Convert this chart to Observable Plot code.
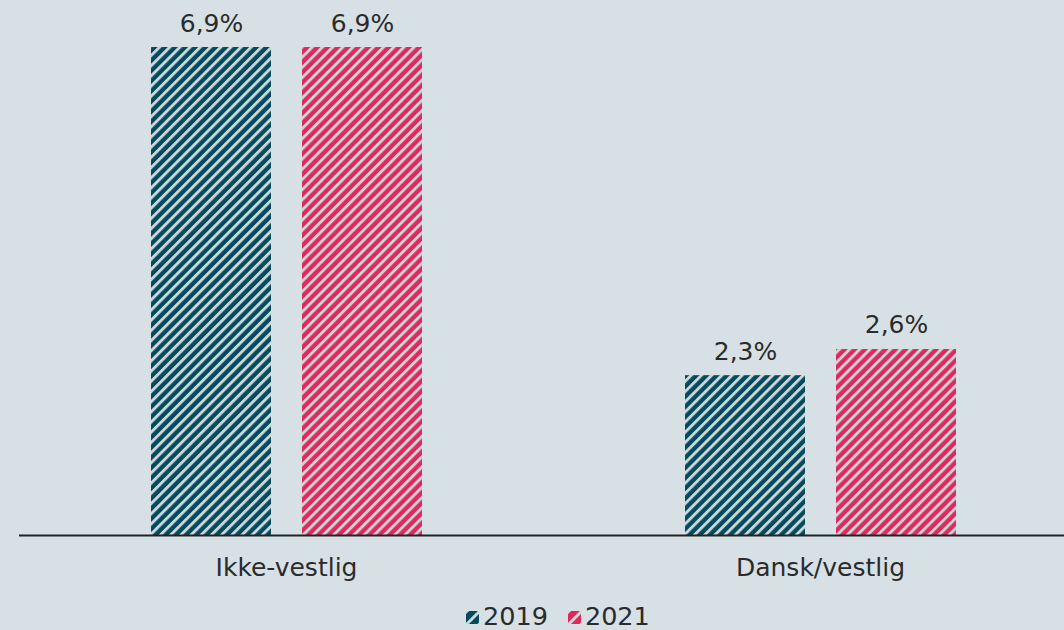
<!DOCTYPE html>
<html>
<head>
<meta charset="utf-8">
<script src="https://cdn.jsdelivr.net/npm/d3@7"></script>
<script src="https://cdn.jsdelivr.net/npm/@observablehq/plot@0.6"></script>
<style>
  html, body { margin: 0; padding: 0; background: #d7e1e5; }
  body { width: 1064px; height: 630px; position: relative; overflow: hidden; font-family: "DejaVu Sans", Verdana, sans-serif; }
  #chart svg { display: block; }
  #legend { position: absolute; left: 466px; top: 603px; display: flex; align-items: center; font-size: 25.5px; color: #2b2b2b; line-height: 27px; }
  #legend .item { display: flex; align-items: center; margin-right: 20px; }
  #legend svg { margin-right: 3px; }
</style>
</head>
<body>
<div id="chart"></div>
<div id="legend"></div>
<script>
const categories = ["Ikke-vestlig", "Dansk/vestlig"];
const years = ["2019", "2021"];
const values2019 = [6.9, 2.26];
const values2021 = [6.9, 2.63];
const labels2019 = ["6,9%", "2,3%"];
const labels2021 = ["6,9%", "2,6%"];
const colors = {"2019": "#004b5e", "2021": "#e1285c"};
const stripe = "#cfd5d8";

const data = [];
categories.forEach((c, i) => {
  data.push({category: c, year: "2019", value: values2019[i], label: labels2019[i]});
  data.push({category: c, year: "2021", value: values2021[i], label: labels2021[i]});
});

const chart = Plot.plot({
  width: 1064,
  height: 595,
  marginTop: 47,
  marginBottom: 60,
  marginLeft: 18,
  marginRight: 0,
  style: {background: "transparent", fontFamily: "DejaVu Sans, Verdana, sans-serif", fontSize: "25px", color: "#2b2b2b"},
  fx: {domain: categories, range: [18.5, 1086.5], padding: 0, label: null, tickSize: 0, tickPadding: 23, axis: "bottom"},
  x: {domain: years, axis: null, paddingInner: 0.208, paddingOuter: 0.866},
  y: {domain: [0, 6.9], axis: null},
  marks: [
    Plot.barY(data, {fx: "category", x: "year", y: "value", fill: d => `url(#hatch${d.year})`}),
    Plot.text(data, {fx: "category", x: "year", y: "value", text: "label", lineAnchor: "bottom", dy: -16, fontSize: 25, fill: "#2b2b2b"}),
    Plot.ruleY([0], {stroke: "#222", strokeWidth: 2})
  ],
  color: {type: "identity"}
});

const svg = d3.select(chart.tagName.toLowerCase() === "svg" ? chart : chart.querySelector("svg"));
const defs = svg.insert("defs", ":first-child");
function addPattern(sel, id, color, size, w) {
  const p = sel.append("pattern").attr("id", id).attr("patternUnits", "userSpaceOnUse")
    .attr("width", size).attr("height", size).attr("patternTransform", "rotate(45)");
  p.append("rect").attr("width", size).attr("height", size).attr("fill", color);
  p.append("rect").attr("width", w).attr("height", size).attr("fill", stripe);
}
years.forEach(y => addPattern(defs, "hatch" + y, colors[y], 7.2, 2.9));
document.getElementById("chart").appendChild(chart);

const legend = d3.select("#legend");
years.forEach(y => {
  const item = legend.append("div").attr("class", "item");
  const s = item.append("svg").attr("width", 14).attr("height", 14);
  addPattern(s.append("defs"), "lg" + y, colors[y], 9, 3);
  s.append("rect").attr("width", 13).attr("height", 13).attr("y", 1).attr("fill", `url(#lg${y})`);
  item.append("span").text(y);
});
</script>
</body>
</html>
